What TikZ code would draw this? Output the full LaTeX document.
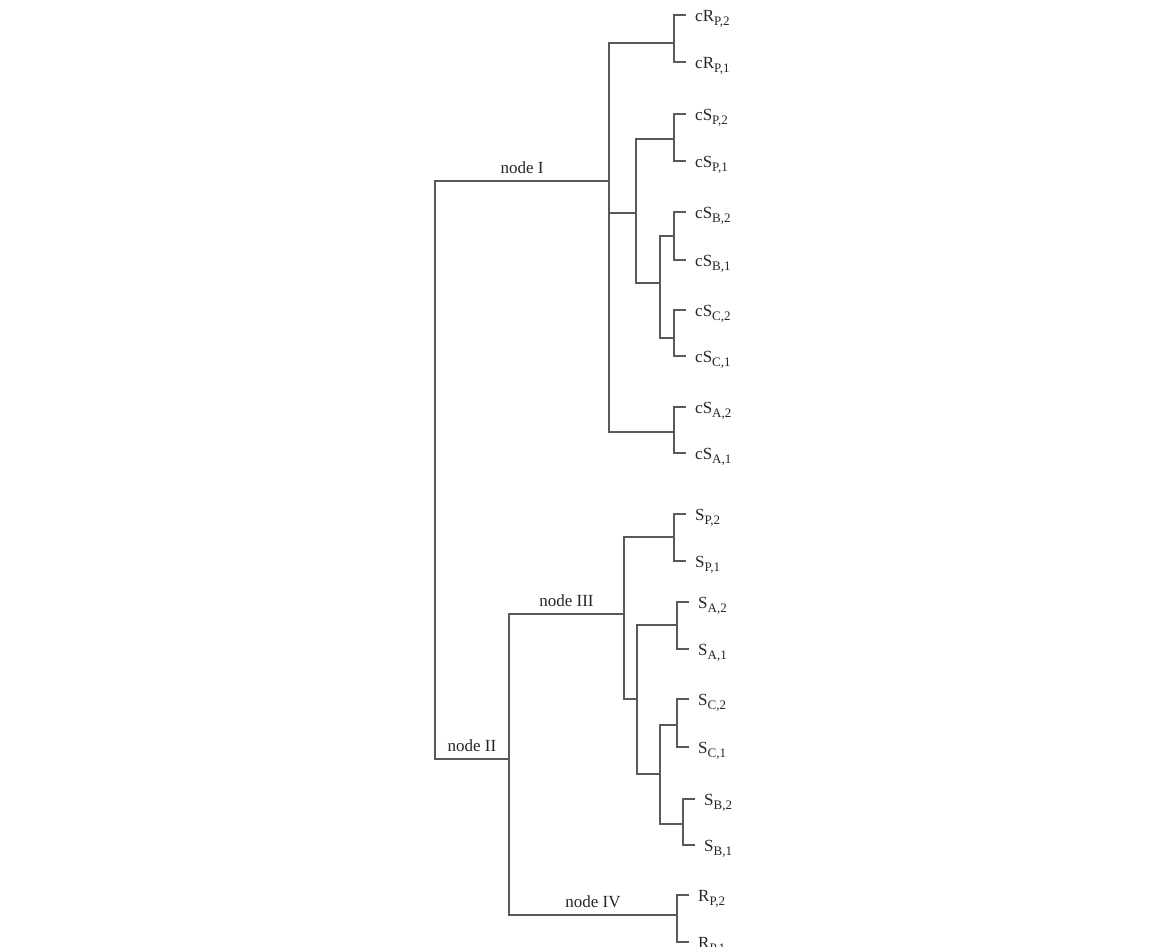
\documentclass[tikz,border=0pt]{standalone}
\usepackage{amsmath}
\usepackage{fontspec}
\setmainfont{Liberation Serif}
\usetikzlibrary{positioning}
\newcommand{\hojatxt}[2]{#1\raisebox{-3.5pt}{\fontsize{13}{15}\selectfont #2}}

\begin{document}
\begin{tikzpicture}[x=1pt, y=-1pt,
        rama/.style={draw=black!65, line width=1.2pt},
        hoja/.style={anchor=west, inner xsep=9pt, inner ysep=0pt, text height=17pt, text depth=4pt, font=\fontsize{17}{20}\selectfont, text=black!85},
        etiq/.style={above=7pt, inner sep=0pt, font=\fontsize{17}{20}\selectfont, text=black!85}]
    \useasboundingbox (0,0) rectangle (1149,946);
    \node[hoja] (cRP2) at (686,15) {\hojatxt{cR}{P,2}};
    \node[hoja] (cRP1) at (686,62) {\hojatxt{cR}{P,1}};
    \node[hoja] (cSP2) at (686,114) {\hojatxt{cS}{P,2}};
    \node[hoja] (cSP1) at (686,161) {\hojatxt{cS}{P,1}};
    \node[hoja] (cSB2) at (686,212) {\hojatxt{cS}{B,2}};
    \node[hoja] (cSB1) at (686,260) {\hojatxt{cS}{B,1}};
    \node[hoja] (cSC2) at (686,310) {\hojatxt{cS}{C,2}};
    \node[hoja] (cSC1) at (686,356) {\hojatxt{cS}{C,1}};
    \node[hoja] (cSA2) at (686,407) {\hojatxt{cS}{A,2}};
    \node[hoja] (cSA1) at (686,453) {\hojatxt{cS}{A,1}};
    \node[hoja] (SP2) at (686,514) {\hojatxt{S}{P,2}};
    \node[hoja] (SP1) at (686,561) {\hojatxt{S}{P,1}};
    \node[hoja] (SA2) at (689,602) {\hojatxt{S}{A,2}};
    \node[hoja] (SA1) at (689,649) {\hojatxt{S}{A,1}};
    \node[hoja] (SC2) at (689,699) {\hojatxt{S}{C,2}};
    \node[hoja] (SC1) at (689,747) {\hojatxt{S}{C,1}};
    \node[hoja] (SB2) at (695,799) {\hojatxt{S}{B,2}};
    \node[hoja] (SB1) at (695,845) {\hojatxt{S}{B,1}};
    \node[hoja] (RP2) at (689,895) {\hojatxt{R}{P,2}};
    \node[hoja] (RP1) at (689,942) {\hojatxt{R}{P,1}};
    \coordinate (jcRP) at (674,43);
    \coordinate (jcSP) at (674,139);
    \coordinate (jcSB) at (674,236);
    \coordinate (jcSC) at (674,338);
    \coordinate (jcSA) at (674,432);
    \coordinate (jcSBC) at (660,283);
    \coordinate (jcSPBC) at (636,213);
    \coordinate (jI) at (609,181);
    \coordinate (jSP) at (674,537);
    \coordinate (jSA) at (677,625);
    \coordinate (jSC) at (677,725);
    \coordinate (jSB) at (683,824);
    \coordinate (jSCB) at (660,774);
    \coordinate (jSACB) at (637,699);
    \coordinate (jIII) at (624,614);
    \coordinate (jIV) at (677,915);
    \coordinate (jII) at (509,759);
    \coordinate (jraiz) at (435,470);
    \draw[rama] (cRP2.west) -| (jcRP) |- (cRP1.west);
    \draw[rama] (cSP2.west) -| (jcSP) |- (cSP1.west);
    \draw[rama] (cSB2.west) -| (jcSB) |- (cSB1.west);
    \draw[rama] (cSC2.west) -| (jcSC) |- (cSC1.west);
    \draw[rama] (cSA2.west) -| (jcSA) |- (cSA1.west);
    \draw[rama] (SP2.west) -| (jSP) |- (SP1.west);
    \draw[rama] (SA2.west) -| (jSA) |- (SA1.west);
    \draw[rama] (SC2.west) -| (jSC) |- (SC1.west);
    \draw[rama] (SB2.west) -| (jSB) |- (SB1.west);
    \draw[rama] (RP2.west) -| (jIV) |- (RP1.west);
    \draw[rama] (jcSB) -| (jcSBC) |- (jcSC);
    \draw[rama] (jcSP) -| (jcSPBC) |- (jcSBC);
    \draw[rama] (jcRP) -| (jI) |- (jcSA);
    \draw[rama] (jcSPBC) -- (jI |- jcSPBC);
    \draw[rama] (jSC) -| (jSCB) |- (jSB);
    \draw[rama] (jSA) -| (jSACB) |- (jSCB);
    \draw[rama] (jSP) -| (jIII) |- (jSACB);
    \draw[rama] (jIII) -| node[etiq, pos=0.25] (tIII) {node III} (jII) |- node[etiq, pos=0.75] (tIV) {node IV} (jIV);
    \draw[rama] (jI) -| node[etiq, pos=0.25] (tI) {node I} (jraiz) |- node[etiq, pos=0.75] (tII) {node II} (jII);
\end{tikzpicture}
\end{document}
